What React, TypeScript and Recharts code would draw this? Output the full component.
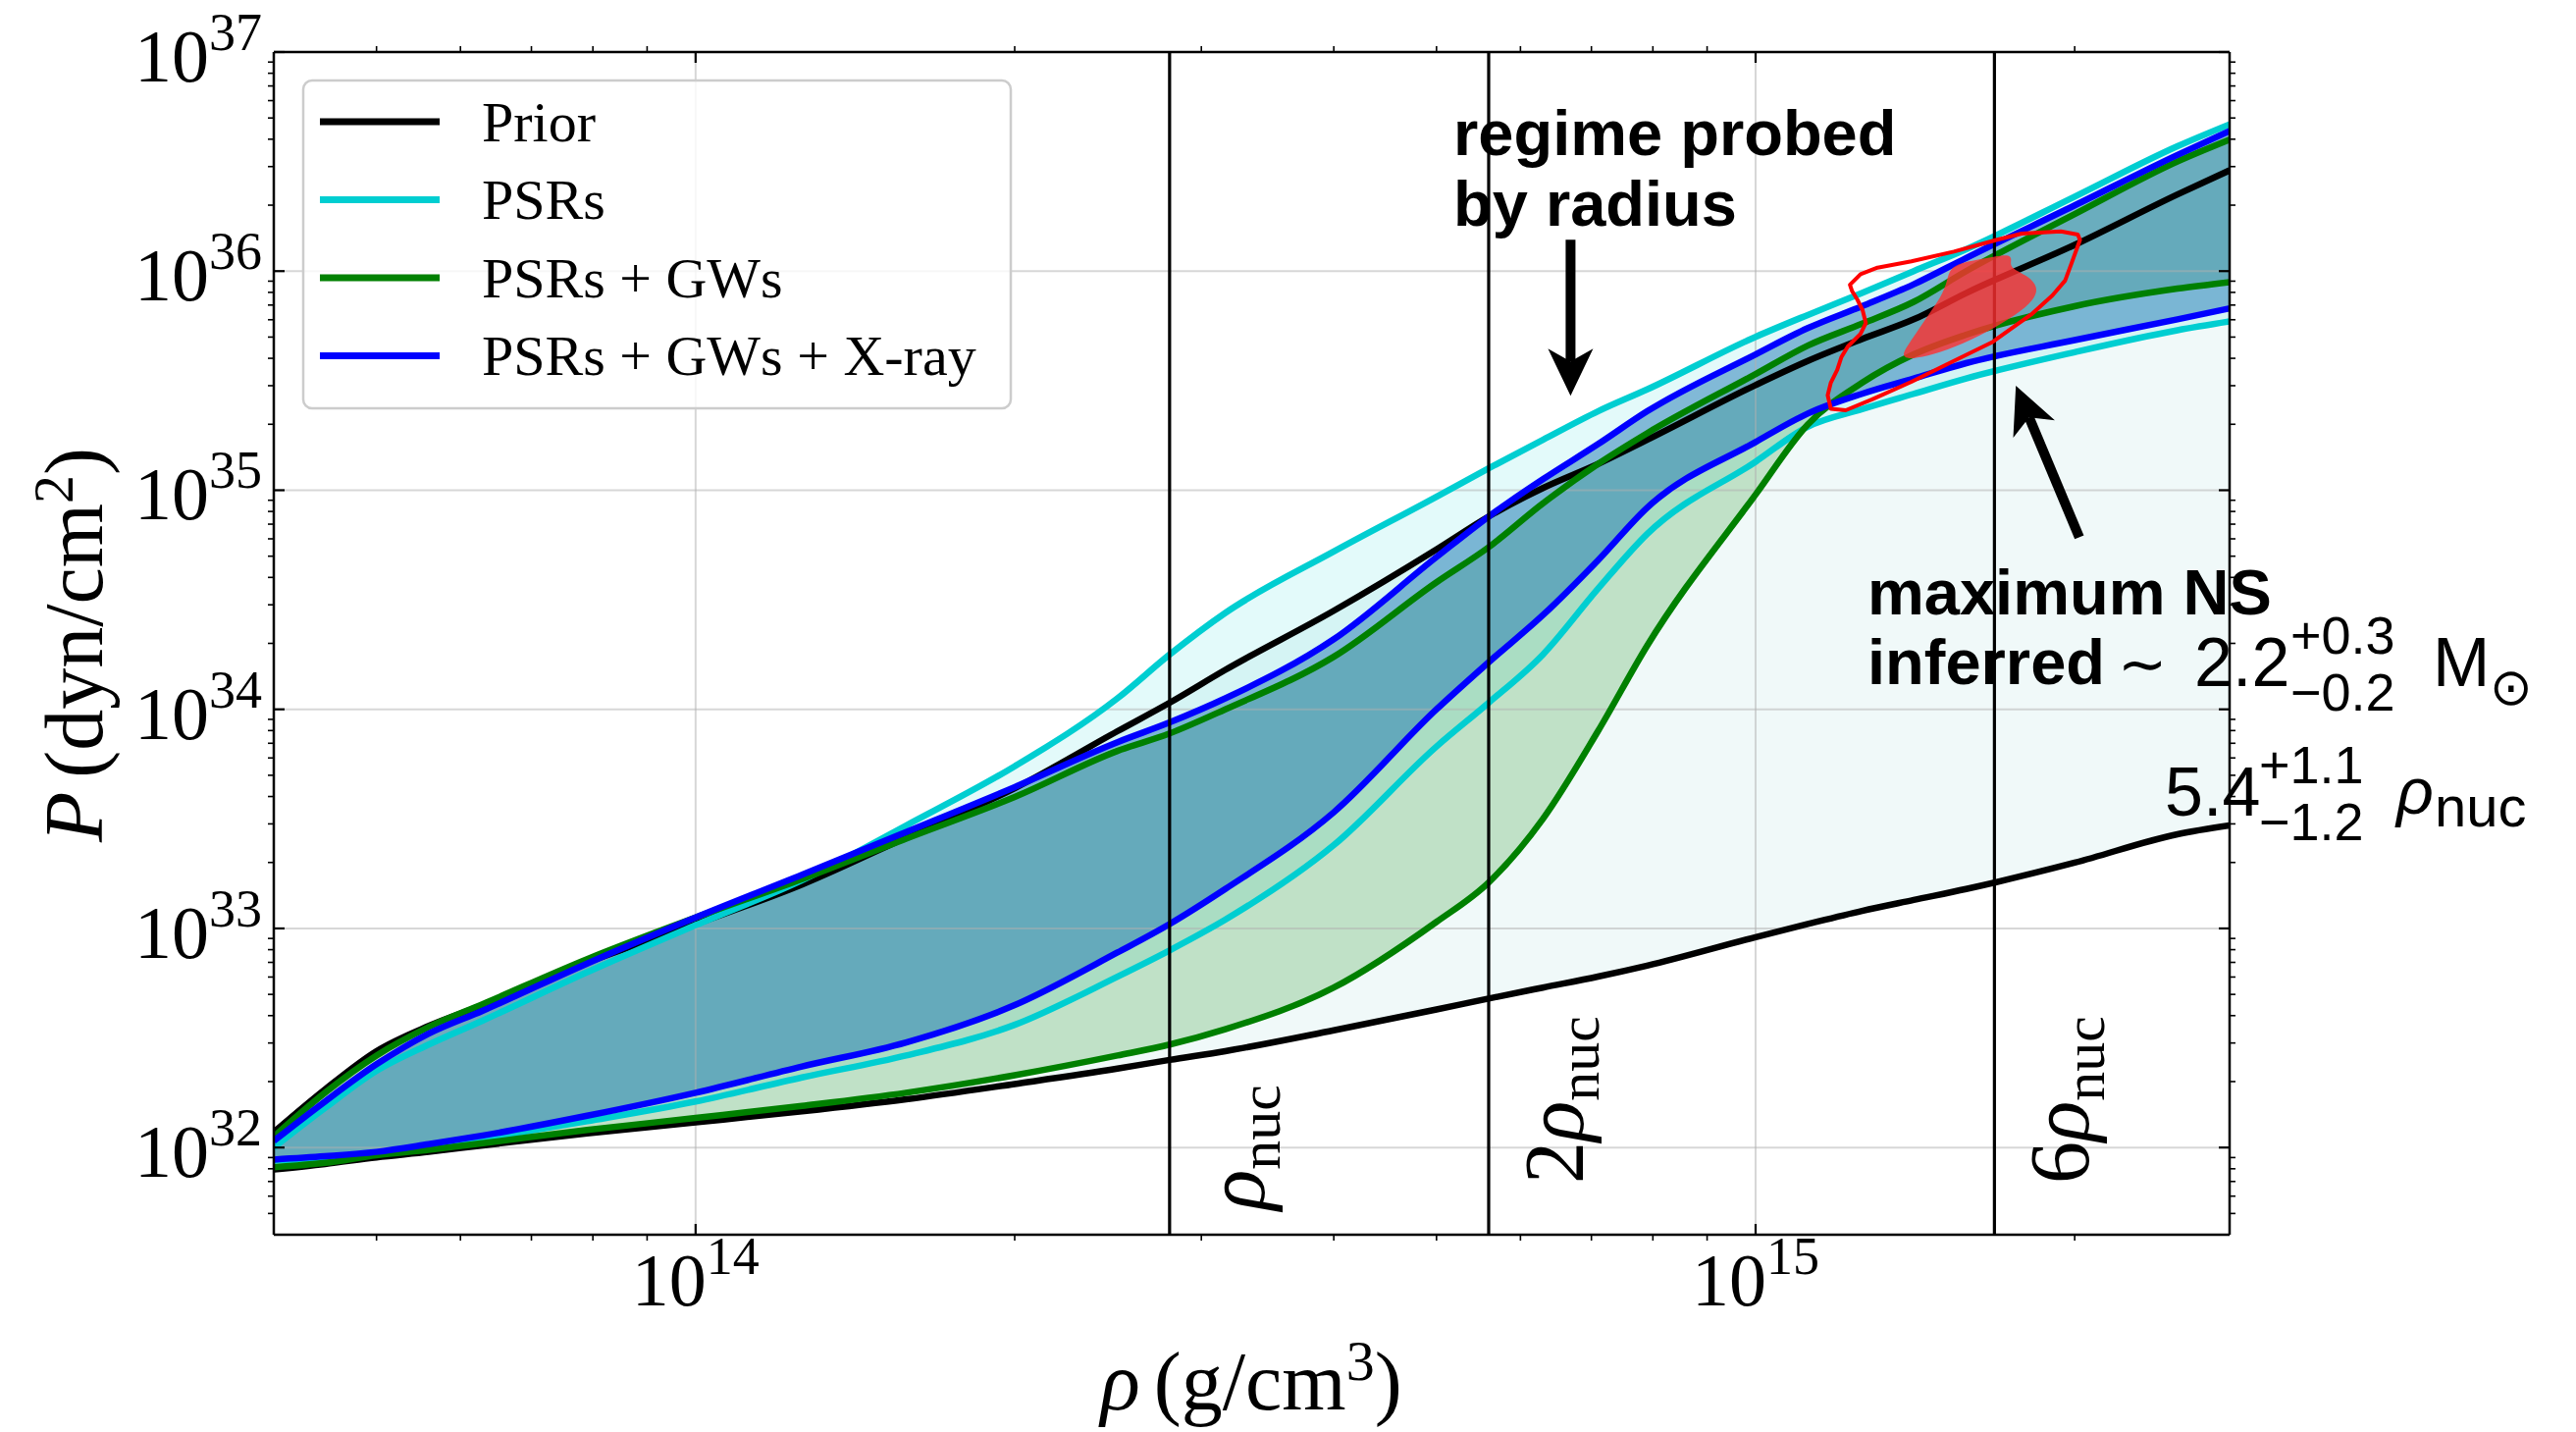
import React from 'react';
import {
  ComposedChart, Area, Line, Scatter, XAxis, YAxis, ReferenceLine, Curve,
} from 'recharts';

const W = 2625;
const H = 1459;
const SERIF = "'Liberation Serif', 'DejaVu Serif', serif";
const SANS = "'Liberation Sans', 'DejaVu Sans', sans-serif";

// rest-mass density grid, g/cm^3
const rho = [
  4.0e13, 4.47e13, 5.0e13, 5.6e13, 6.3e13, 7.9e13, 1.0e14, 1.26e14, 1.58e14,
  2.0e14, 2.5e14, 2.8e14, 3.16e14, 4.0e14, 5.0e14, 5.6e14, 6.3e14, 7.1e14,
  7.9e14, 1.0e15, 1.12e15, 1.26e15, 1.41e15, 1.58e15, 2.0e15, 2.5e15, 2.8e15,
];

// log10 P (dyn/cm^2): lower / upper edge of each 90% band
const priorLo = [31.90, 31.925, 31.955, 31.98, 32.01, 32.065, 32.115, 32.165, 32.22, 32.29, 32.36, 32.40, 32.44, 32.535, 32.63, 32.68, 32.73, 32.78, 32.83, 32.96, 33.02, 33.08, 33.13, 33.18, 33.30, 33.43, 33.47];
const priorHi = [32.07, 32.265, 32.44, 32.555, 32.65, 32.845, 33.02, 33.2, 33.415, 33.64, 33.90, 34.03, 34.18, 34.45, 34.73, 34.88, 35.01, 35.12, 35.23, 35.48, 35.59, 35.69, 35.78, 35.90, 36.12, 36.35, 36.46];
const psrLo = [31.94, 31.95, 31.97, 32.0, 32.04, 32.12, 32.21, 32.32, 32.42, 32.56, 32.78, 32.90, 33.04, 33.38, 33.83, 34.03, 34.25, 34.55, 34.80, 35.13, 35.29, 35.37, 35.44, 35.51, 35.63, 35.73, 35.77];
const psrHi = [32.0, 32.18, 32.35, 32.47, 32.58, 32.80, 33.015, 33.22, 33.47, 33.74, 34.05, 34.25, 34.44, 34.72, 34.97, 35.10, 35.23, 35.36, 35.46, 35.70, 35.80, 35.90, 36.0, 36.10, 36.34, 36.57, 36.67];
const gwLo = [31.91, 31.93, 31.965, 31.99, 32.02, 32.08, 32.135, 32.19, 32.25, 32.33, 32.42, 32.47, 32.54, 32.73, 33.03, 33.21, 33.50, 33.90, 34.29, 34.98, 35.30, 35.49, 35.62, 35.71, 35.84, 35.92, 35.95];
const gwHi = [32.05, 32.25, 32.42, 32.55, 32.655, 32.86, 33.05, 33.225, 33.41, 33.60, 33.81, 33.89, 34.0, 34.24, 34.58, 34.74, 34.94, 35.12, 35.26, 35.53, 35.66, 35.76, 35.86, 36.0, 36.26, 36.50, 36.60];
const xrLo = [31.945, 31.96, 31.98, 32.015, 32.055, 32.145, 32.25, 32.37, 32.48, 32.65, 32.89, 33.02, 33.18, 33.53, 34.0, 34.215, 34.43, 34.68, 34.92, 35.22, 35.35, 35.44, 35.51, 35.58, 35.685, 35.78, 35.83];
const xrHi = [32.03, 32.21, 32.38, 32.52, 32.625, 32.84, 33.05, 33.245, 33.44, 33.645, 33.85, 33.94, 34.05, 34.32, 34.695, 34.88, 35.05, 35.21, 35.36, 35.62, 35.74, 35.84, 35.94, 36.06, 36.30, 36.53, 36.64];

// central density / pressure of the maximum-mass star (log10): 90% contour and 50% region
const contourLogRho = [15.089, 15.099, 15.115, 15.147, 15.187, 15.227, 15.251, 15.288, 15.304, 15.306, 15.298, 15.292, 15.280, 15.260, 15.243, 15.223, 15.187, 15.147, 15.110, 15.085, 15.071, 15.068, 15.071, 15.077, 15.081, 15.087, 15.099, 15.104, 15.101, 15.096, 15.091];
const contourLogP = [35.938, 35.986, 36.016, 36.045, 36.089, 36.142, 36.171, 36.181, 36.167, 36.142, 36.035, 35.957, 35.889, 35.802, 35.744, 35.675, 35.590, 35.495, 35.415, 35.365, 35.372, 35.433, 35.491, 35.549, 35.608, 35.656, 35.714, 35.763, 35.821, 35.870, 35.909];
const coreLogRho = [15.139, 15.147, 15.163, 15.175, 15.181, 15.183, 15.199, 15.223, 15.239, 15.242, 15.239, 15.258, 15.266, 15.264, 15.252, 15.227, 15.195, 15.167, 15.147, 15.140];
const coreLogP = [35.627, 35.685, 35.802, 35.880, 35.957, 36.016, 36.045, 36.064, 36.078, 36.054, 36.016, 35.977, 35.928, 35.880, 35.821, 35.744, 35.666, 35.617, 35.598, 35.608];

const rhoNuc = 2.8e14;
const nucMarks = [
  { k: 1, prefix: '', lift: 25 },
  { k: 2, prefix: '2', lift: 52 },
  { k: 6, prefix: '6', lift: 52 },
];

// annotation arrows, data units (tail -> tip)
const radiusArrow = [{ x: 6.69e14, y: 1.39e36 }, { x: 6.69e14, y: 2.7e35 }];
const massArrow = [{ x: 2.02e15, y: 6.1e34 }, { x: 1.76e15, y: 3.0e35 }];

const series = [
  { key: 'prior', name: 'Prior', color: '#000000', fill: '#00a096', fillOpacity: 0.06, lo: priorLo, hi: priorHi },
  { key: 'psr', name: 'PSRs', color: '#00ced1', fill: '#00ced1', fillOpacity: 0.11, lo: psrLo, hi: psrHi },
  { key: 'gw', name: 'PSRs + GWs', color: '#008000', fill: '#008000', fillOpacity: 0.2, lo: gwLo, hi: gwHi },
  { key: 'xr', name: 'PSRs + GWs + X-ray', color: '#0000ff', fill: '#1f77b4', fillOpacity: 0.5, lo: xrLo, hi: xrHi },
];

const data = rho.map((r, i) => {
  const row: any = { rho: r };
  series.forEach((s) => {
    row[s.key] = [10 ** s.lo[i], 10 ** s.hi[i]];
    row[s.key + 'Lo'] = 10 ** s.lo[i];
    row[s.key + 'Hi'] = 10 ** s.hi[i];
  });
  return row;
});
const contour = contourLogRho.map((l, i) => ({ rho: 10 ** l, p: 10 ** contourLogP[i] }));
const core = coreLogRho.map((l, i) => ({ rho: 10 ** l, p: 10 ** coreLogP[i] }));

const X_DOMAIN = [4e13, 2.8e15];
const Y_DOMAIN = [4e31, 1e37];
const xMajor = [1e14, 1e15];
const xMinor = [5e13, 6e13, 7e13, 8e13, 9e13, 2e14, 3e14, 4e14, 5e14, 6e14, 7e14, 8e14, 9e14, 2e15];
const yMajor = [1e32, 1e33, 1e34, 1e35, 1e36, 1e37];
const yMinor: number[] = [];
for (let e = 31; e <= 36; e++) {
  for (let k = 2; k <= 9; k++) {
    const v = k * 10 ** e;
    if (v > Y_DOMAIN[0] && v < Y_DOMAIN[1]) yMinor.push(v);
  }
}
const xTicks = [...xMajor, ...xMinor].sort((a, b) => a - b);
const yTicks = [...yMajor, ...yMinor].sort((a, b) => a - b);

const isMajor = (v: number) => Math.abs(Math.log10(v) - Math.round(Math.log10(v))) < 1e-6;
const MAJ = 11;
const MIN = 6;

function Pow10({ v }: { v: number }) {
  return (
    <>
      10<tspan dy={-32} fontSize={54}>{Math.round(Math.log10(v))}</tspan>
    </>
  );
}

function BottomTick(p: any) {
  const { x, y, payload } = p;
  const v = payload.value;
  if (!isMajor(v)) return <line x1={x} x2={x} y1={y} y2={y + MIN} stroke="#000" strokeWidth={1.6} />;
  return (
    <g>
      <line x1={x} x2={x} y1={y} y2={y - MAJ} stroke="#000" strokeWidth={2.2} />
      <text x={x} y={y + 72} textAnchor="middle" fontFamily={SERIF} fontSize={76} fill="#000">
        <Pow10 v={v} />
      </text>
    </g>
  );
}

function TopTick(p: any) {
  const { x, y, payload } = p;
  const v = payload.value;
  if (!isMajor(v)) return <line x1={x} x2={x} y1={y} y2={y - MIN} stroke="#000" strokeWidth={1.6} />;
  return <line x1={x} x2={x} y1={y} y2={y + MAJ} stroke="#000" strokeWidth={2.2} />;
}

function LeftTick(p: any) {
  const { x, y, payload } = p;
  const v = payload.value;
  if (!isMajor(v)) return <line x1={x} x2={x - MIN} y1={y} y2={y} stroke="#000" strokeWidth={1.6} />;
  return (
    <g>
      <line x1={x} x2={x + MAJ} y1={y} y2={y} stroke="#000" strokeWidth={2.2} />
      <text x={x - 12} y={y + 30} textAnchor="end" fontFamily={SERIF} fontSize={76} fill="#000">
        <Pow10 v={v} />
      </text>
    </g>
  );
}

function RightTick(p: any) {
  const { x, y, payload } = p;
  const v = payload.value;
  if (!isMajor(v)) return <line x1={x} x2={x + MIN} y1={y} y2={y} stroke="#000" strokeWidth={1.6} />;
  return <line x1={x} x2={x - MAJ} y1={y} y2={y} stroke="#000" strokeWidth={2.2} />;
}

function ArrowShape(p: any) {
  const { x1, y1, x2, y2 } = p;
  const dx = x2 - x1;
  const dy = y2 - y1;
  const len = Math.hypot(dx, dy) || 1;
  const ux = dx / len;
  const uy = dy / len;
  const nx = -uy;
  const ny = ux;
  const headL = 48;
  const headW = 23;
  const notch = 13;
  const bx = x2 - ux * headL;
  const by = y2 - uy * headL;
  const mx = x2 - ux * (headL - notch);
  const my = y2 - uy * (headL - notch);
  return (
    <g>
      <line x1={x1} y1={y1} x2={mx} y2={my} stroke="#000" strokeWidth={10} />
      <polygon
        points={`${x2},${y2} ${bx + nx * headW},${by + ny * headW} ${mx},${my} ${bx - nx * headW},${by - ny * headW}`}
        fill="#000"
      />
    </g>
  );
}

const nucLabel = (prefix: string, lift: number) => (props: any) => {
  const vb = props.viewBox || {};
  const x = vb.x + 96;
  const y = vb.y + vb.height - lift;
  return (
    <text x={x} y={y} transform={`rotate(-90 ${x} ${y})`} fontFamily={SERIF} fontSize={86} fill="#000">
      {prefix}
      <tspan fontStyle="italic">ρ</tspan>
      <tspan fontSize={60} dy={16}>nuc</tspan>
    </text>
  );
};

const axisLine = { stroke: '#000', strokeWidth: 2.5 };
const gridStroke = { stroke: '#b0b0b0', strokeOpacity: 0.5, strokeWidth: 2 };
const LINE_W = 6.5;

export default function App() {
  return (
    <div style={{ position: 'absolute', left: 0, top: 0, width: W, height: H, background: '#fff' }}>
      <ComposedChart
        width={W}
        height={H}
        data={data}
        margin={{ top: 33, left: 199, right: 333, bottom: 121 }}
      >
        {series.map((s) => (
          <Area
            key={s.key + 'band'}
            dataKey={s.key}
            type="monotone"
            stroke="none"
            fill={s.fill}
            fillOpacity={s.fillOpacity}
            isAnimationActive={false}
            dot={false}
            activeDot={false}
            zIndex={100}
          />
        ))}

        {xMajor.map((v) => (
          <ReferenceLine key={'gx' + v} x={v} {...gridStroke} zIndex={150} />
        ))}
        {yMajor.slice(0, -1).map((v) => (
          <ReferenceLine key={'gy' + v} y={v} {...gridStroke} zIndex={150} />
        ))}

        {series.map((s) => [
          <Line
            key={s.key + 'lo'}
            dataKey={s.key + 'Lo'}
            type="monotone"
            stroke={s.color}
            strokeWidth={LINE_W}
            dot={false}
            activeDot={false}
            isAnimationActive={false}
            zIndex={400}
          />,
          <Line
            key={s.key + 'hi'}
            dataKey={s.key + 'Hi'}
            type="monotone"
            stroke={s.color}
            strokeWidth={LINE_W}
            dot={false}
            activeDot={false}
            isAnimationActive={false}
            zIndex={400}
          />,
        ])}

        {nucMarks.map((m) => (
          <ReferenceLine
            key={'nuc' + m.k}
            x={rhoNuc * m.k}
            stroke="#000"
            strokeWidth={3.2}
            label={nucLabel(m.prefix, m.lift)}
            zIndex={450}
          />
        ))}

        <Scatter
          data={core}
          dataKey="p"
          isAnimationActive={false}
          shape={() => <g />}
          line={(lp: any) => (
            <Curve points={lp.points} type="basisClosed" fill="#ff3030" fillOpacity={0.8} stroke="none" />
          )}
          zIndex={600}
        />
        <Scatter
          data={contour}
          dataKey="p"
          isAnimationActive={false}
          shape={() => <g />}
          line={(lp: any) => (
            <Curve
              points={lp.points}
              type="linearClosed"
              fill="none"
              stroke="#ff0000"
              strokeWidth={4}
              strokeLinejoin="round"
            />
          )}
          zIndex={610}
        />

        <ReferenceLine segment={radiusArrow} shape={(p: any) => <ArrowShape {...p} />} zIndex={700} />
        <ReferenceLine segment={massArrow} shape={(p: any) => <ArrowShape {...p} />} zIndex={700} />

        <XAxis
          dataKey="rho"
          type="number"
          scale="log"
          domain={X_DOMAIN}
          allowDataOverflow
          ticks={xTicks}
          interval={0}
          height={80}
          tickSize={0}
          tickMargin={0}
          tickLine={false}
          axisLine={axisLine}
          tick={(p: any) => <BottomTick {...p} />}
        />
        <XAxis
          xAxisId="top"
          orientation="top"
          dataKey="rho"
          type="number"
          scale="log"
          domain={X_DOMAIN}
          allowDataOverflow
          ticks={xTicks}
          interval={0}
          height={20}
          tickSize={0}
          tickMargin={0}
          tickLine={false}
          axisLine={axisLine}
          tick={(p: any) => <TopTick {...p} />}
        />
        <YAxis
          type="number"
          scale="log"
          domain={Y_DOMAIN}
          allowDataOverflow
          ticks={yTicks}
          interval={0}
          width={80}
          tickSize={0}
          tickMargin={0}
          tickLine={false}
          axisLine={axisLine}
          tick={(p: any) => <LeftTick {...p} />}
        />
        <YAxis
          yAxisId="right"
          orientation="right"
          type="number"
          scale="log"
          domain={Y_DOMAIN}
          allowDataOverflow
          ticks={yTicks}
          interval={0}
          width={20}
          tickSize={0}
          tickMargin={0}
          tickLine={false}
          axisLine={axisLine}
          tick={(p: any) => <RightTick {...p} />}
        />
      </ComposedChart>

      <svg
        width={W}
        height={H}
        style={{ position: 'absolute', left: 0, top: 0, pointerEvents: 'none' }}
      >
        {/* legend */}
        <rect x={309} y={82} width={721} height={334} rx={9} fill="#fff" fillOpacity={0.8} stroke="#cccccc" strokeWidth={2.5} />
        {series.map((s, i) => (
          <g key={'lg' + s.key}>
            <line x1={326} x2={448} y1={124 + i * 79.5} y2={124 + i * 79.5} stroke={s.color} strokeWidth={7} />
            <text x={491} y={144 + i * 79.3} fontFamily={SERIF} fontSize={58} fill="#000">{s.name}</text>
          </g>
        ))}

        {/* axis titles */}
        <text x={104} y={657} transform="rotate(-90 104 657)" textAnchor="middle" fontFamily={SERIF} fontSize={84} fill="#000">
          <tspan fontStyle="italic">P</tspan>
          <tspan dx={14}>(dyn/cm</tspan>
          <tspan dy={-30} fontSize={58}>2</tspan>
          <tspan dy={30}>)</tspan>
        </text>
        <text x={1275} y={1436} textAnchor="middle" fontFamily={SERIF} fontSize={84} fill="#000">
          <tspan fontStyle="italic">ρ</tspan>
          <tspan dx={14}>(g/cm</tspan>
          <tspan dy={-30} fontSize={58}>3</tspan>
          <tspan dy={30}>)</tspan>
        </text>

        {/* annotations */}
        <text x={1481} y={158} fontFamily={SANS} fontWeight="bold" fontSize={65} fill="#000">regime probed</text>
        <text x={1481} y={230} fontFamily={SANS} fontWeight="bold" fontSize={65} fill="#000">by radius</text>

        <text x={1903} y={626} fontFamily={SANS} fontWeight="bold" fontSize={65} fill="#000">maximum NS</text>
        <text x={1903} y={697} fontFamily={SANS} fontWeight="bold" fontSize={65} fill="#000">inferred</text>
        <text x={2158} y={697} fontFamily="'DejaVu Sans', sans-serif" fontSize={60} fill="#000">∼</text>
        <text x={2236} y={699} fontFamily={SANS} fontSize={70} fill="#000">2.2</text>
        <text x={2334} y={666} fontFamily={SANS} fontSize={54} fill="#000">+0.3</text>
        <text x={2334} y={724} fontFamily={SANS} fontSize={54} fill="#000">−0.2</text>
        <text x={2479} y={699} fontFamily={SANS} fontSize={70} fill="#000">M</text>
        <text x={2537} y={718} fontFamily="'DejaVu Sans', sans-serif" fontSize={52} fill="#000">⊙</text>

        <text x={2206} y={831} fontFamily={SANS} fontSize={70} fill="#000">5.4</text>
        <text x={2302} y={798} fontFamily={SANS} fontSize={54} fill="#000">+1.1</text>
        <text x={2302} y={856} fontFamily={SANS} fontSize={54} fill="#000">−1.2</text>
        <text x={2442} y={829} fontFamily={SANS} fontStyle="italic" fontSize={66} fill="#000">ρ</text>
        <text x={2481} y={842} fontFamily={SANS} fontSize={58} fill="#000">nuc</text>
      </svg>
    </div>
  );
}
